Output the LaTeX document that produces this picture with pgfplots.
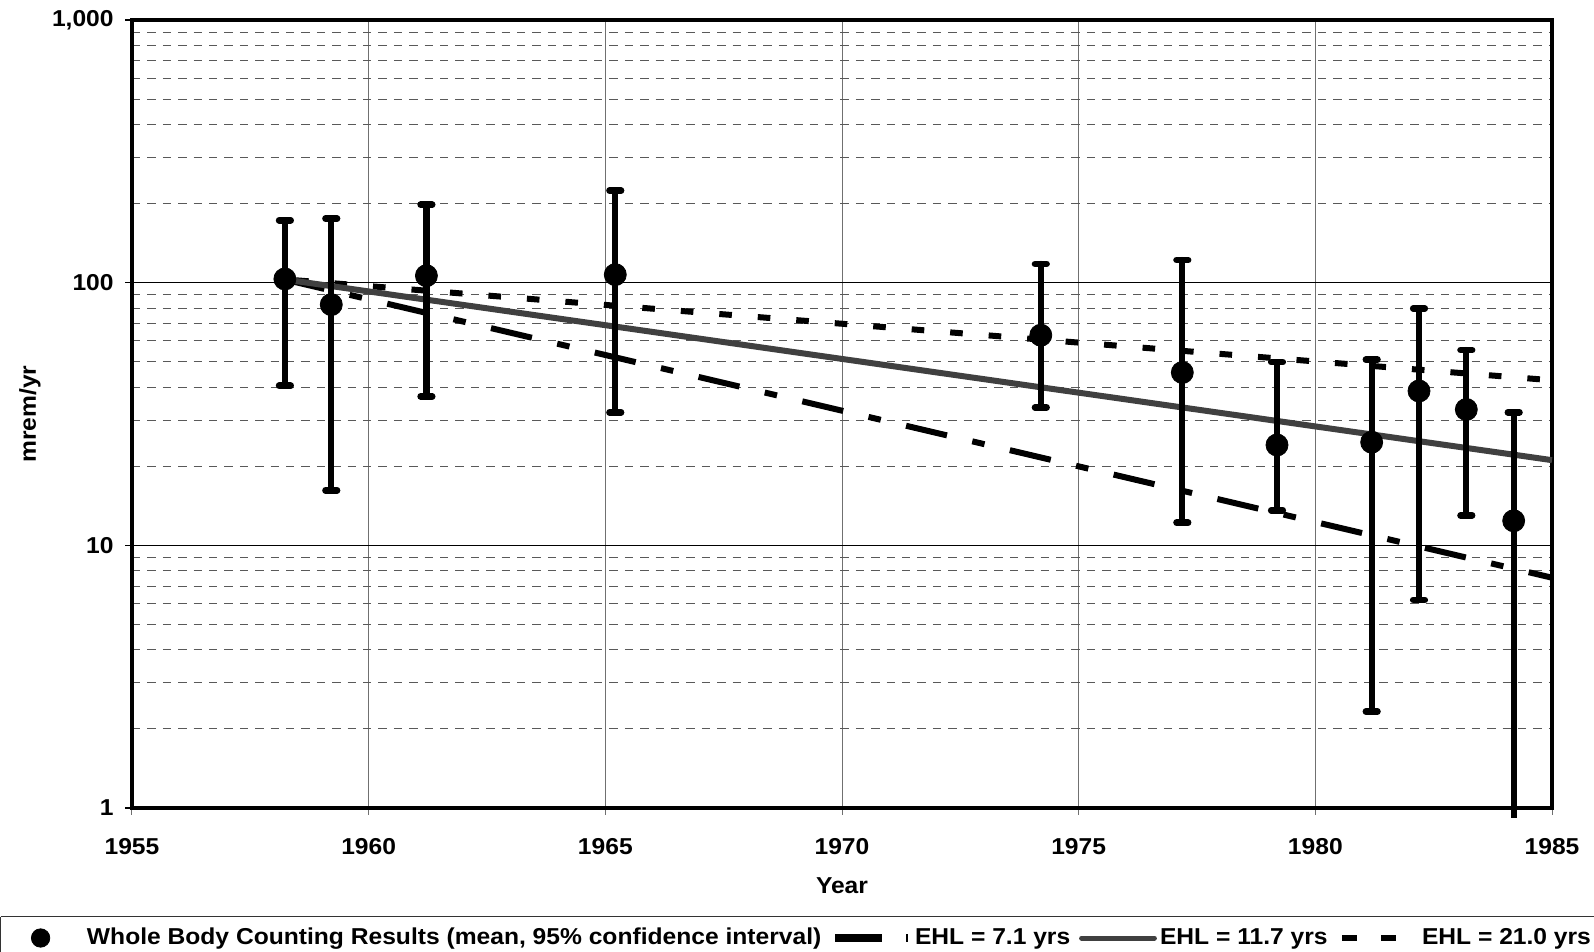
\documentclass[border=0pt]{standalone}
\usepackage{fontspec}
\setmainfont[FakeStretch=1.07]{Liberation Sans}
\usepackage{pgfplots}
\usepackage{pgfplotstable}
\pgfplotsset{compat=1.18}
\definecolor{trendgray}{HTML}{404040}
\definecolor{vgrid}{HTML}{707070}
\pgfplotstableread{
x y ep em
1958.23 103.3 69.4 62.8
1959.21 82.5 92.8 66.3
1961.22 106.3 91.7 69.4
1965.21 107.3 116.7 75.2
1974.20 63.1 54.7 29.6
1977.19 45.5 76.4 33.3
1979.19 24.1 25.7 10.5
1981.19 24.7 26.2 22.37
1982.19 38.7 41.1 32.5
1983.19 32.9 22.5 19.9
1984.19 12.4 19.7 0
}\wbcdata
\pgfplotstableread{
x y ep em
1984.19 12.4 0 11.48
}\wbclast
\begin{document}
\begin{tikzpicture}
\useasboundingbox (-66pt,-72pt) rectangle (731pt,404pt);
\begin{axis}[
  at={(0pt,0pt)}, anchor=south west,
  scale only axis, width=710pt, height=394pt,
  xmin=1955, xmax=1985, ymode=log, ymin=1, ymax=1000,
  xtick={1955,1960,1965,1970,1975,1980,1985},
  xticklabels={\textbf{1955},\textbf{1960},\textbf{1965},\textbf{1970},\textbf{1975},\textbf{1980},\textbf{1985}},
  ytick={1,10,100,1000},
  yticklabels={\textbf{1},\textbf{10},\textbf{100},\textbf{1,000}},
  minor ytick={2,3,4,5,6,7,8,9,20,30,40,50,60,70,80,90,200,300,400,500,600,700,800,900},
  minor tick length=0pt,
  major tick length=3.5pt,
  tick align=outside,
  xtick pos=bottom, ytick pos=left,
  xtick style={vgrid, line width=0.5pt},
  ytick style={black, line width=0.8pt},
  xmajorgrids, ymajorgrids, yminorgrids,
  major x grid style={vgrid, line width=0.5pt},
  major y grid style={black, line width=0.5pt},
  minor y grid style={black!65, line width=0.5pt, dash pattern=on 4.2pt off 3.5pt},
  axis line style={line width=2.2pt},
  tick label style={font=\fontsize{11.5}{13}\selectfont\bfseries},
  xticklabel style={anchor=north, inner sep=0pt, yshift=-11.5pt},
  yticklabel style={anchor=east, inner sep=0pt, xshift=-5.5pt},
  label style={font=\fontsize{11.5}{13}\selectfont\bfseries},
  xlabel={Year},
  xlabel style={at={(axis description cs:0.5,-0.099)}, anchor=center},
  ylabel={mrem/yr},
  ylabel style={at={(axis description cs:-0.0718,0.5)}, anchor=center},
  clip=false,
  legend style={draw=none, fill=none, inner sep=0pt, outer sep=0pt,
    column sep=0pt, row sep=0pt,
    nodes={inner sep=0pt, font=\fontsize{11.5}{13}\selectfont\bfseries},
    at={(rel axis cs:0,0)}, anchor=west, xshift=-66pt, yshift=-65pt},
  legend columns=-1,
  legend cell align=left,
]
% trend lines
\addplot[forget plot, black, line width=3pt, dash pattern=on 6.3pt off 13pt, dash phase=13pt]
  coordinates {(1958.2,103) (1985,42.5)};
\addplot[forget plot, black, line width=3pt, dash pattern=on 21pt off 13pt on 6.3pt off 13pt]
  coordinates {(1958.2,103) (1985,7.53)};
\addplot[forget plot, trendgray, line width=3pt]
  coordinates {(1958.2,103) (1985,21.1)};
% data
\addplot[forget plot, only marks, mark=*, mark size=5.5pt, black,
  error bars/.cd, y dir=both, y explicit,
  error bar style={line width=3.1pt, line cap=round},
  error mark options={rotate=90, mark size=2.9pt, line width=3.3pt, line cap=round}]
  table[x=x, y=y, y error plus=ep, y error minus=em] {\wbcdata};
\addplot[forget plot, only marks, mark=none, black,
  error bars/.cd, y dir=minus, y explicit, error mark=none,
  error bar style={line width=3.1pt}]
  table[x=x, y=y, y error plus=ep, y error minus=em] {\wbclast};
% legend
\addlegendimage{legend image code/.code={\path[draw=none,fill=none] (0pt,-6pt) rectangle (43.5pt,6pt); \fill[black] (20.3pt,0pt) circle (4.6pt);}}
\addlegendentry{\makebox[367.5pt][l]{Whole Body Counting Results (mean, 95\% confidence interval)}}
\addlegendimage{legend image code/.code={\path[draw=none,fill=none] (0pt,-6pt) rectangle (46.5pt,6pt); \fill[black] (6.5pt,-1.6pt) rectangle (29.5pt,1.6pt); \fill[black] (42.3pt,-1.6pt) rectangle (42.9pt,1.6pt);}}
\addlegendentry{\makebox[76.5pt][l]{EHL = 7.1 yrs}}
\addlegendimage{legend image code/.code={\path[draw=none,fill=none] (0pt,-6pt) rectangle (46pt,6pt); \draw[trendgray, line width=2.5pt, line cap=round] (6.8pt,0pt) -- (43.2pt,0pt);}}
\addlegendentry{\makebox[83.5pt][l]{EHL = 11.7 yrs}}
\addlegendimage{legend image code/.code={\path[draw=none,fill=none] (0pt,-6pt) rectangle (47.5pt,6pt); \fill[black] (7.5pt,-1.4pt) rectangle (14.5pt,1.4pt); \fill[black] (27pt,-1.4pt) rectangle (34pt,1.4pt);}}
\addlegendentry{EHL = 21.0 yrs}
% legend frame
\draw[black!80, line width=0.7pt] ([xshift=-65.6pt,yshift=-54.3pt]rel axis cs:0,0) -- ([xshift=-65.6pt,yshift=-75pt]rel axis cs:0,0);
\draw[black!80, line width=0.7pt] ([xshift=-65.6pt,yshift=-54.3pt]rel axis cs:0,0) -- ([xshift=740pt,yshift=-54.3pt]rel axis cs:0,0);
\end{axis}
\end{tikzpicture}
\end{document}
